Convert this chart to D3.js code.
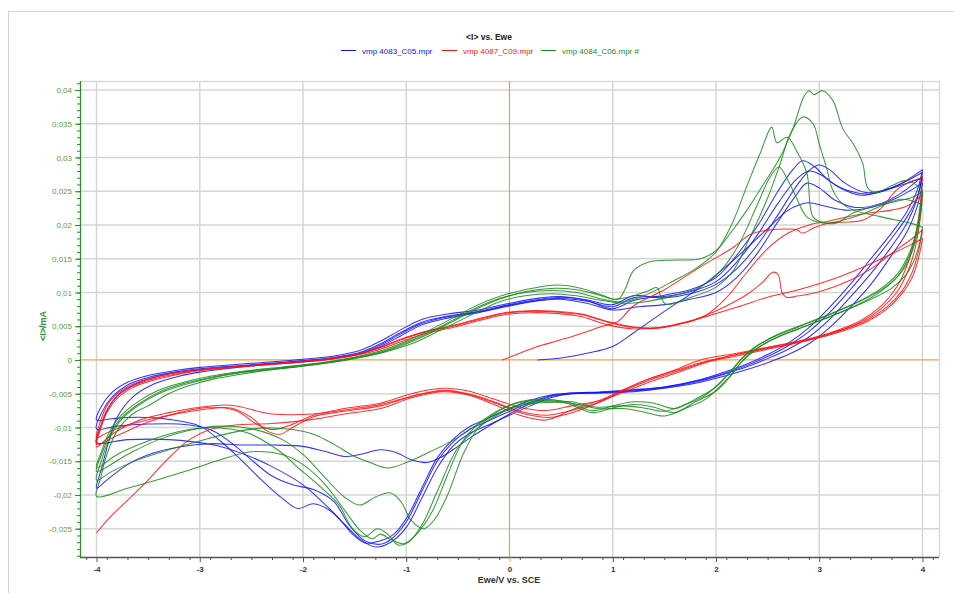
<!DOCTYPE html>
<html>
<head>
<meta charset="utf-8">
<script src="https://cdn.jsdelivr.net/npm/d3@7"></script>
<style>
  body { margin: 0; background: #fff; }
  svg { display: block; font-family: "Liberation Sans", Arial, sans-serif; }
</style>
</head>
<body>
<svg id="chart" width="954" height="593"></svg>
<script>
// ---- Series labels and colours ----
const seriesNames = ["vmp 4083_C05.mpr", "vmp 4087_C09.mpr", "vmp 4084_C06.mpr #"];
const seriesColors = ["#1010ff", "#ff1010", "#178a17"];

// ---- Axis ticks ----
const xTicks = [-4, -3, -2, -1, 0, 1, 2, 3, 4];
const yTicks = [-0.025, -0.02, -0.015, -0.01, -0.005, 0, 0.005, 0.01, 0.015, 0.02, 0.025, 0.03, 0.035, 0.04];

// ---- Scans: [Ewe (V), <I> (mA)] ----
// vmp 4083_C05
const blueStart = [[0.27,0.0000],[0.5,0.0003],[0.75,0.0010],[1.0,0.0020],[1.2,0.0040],[1.5,0.0072],[1.85,0.0108],[2.17,0.0148],[2.49,0.0193],[2.7,0.0222],[2.89,0.0233],[3.05,0.0228],[3.25,0.0222],[3.5,0.0226],[3.75,0.0240],[4.0,0.0262]];
const blueCycle1 = [[4.0,0.0262],[3.95,0.0228],[3.85,0.0190],[3.7,0.0155],[3.5,0.0112],[3.3,0.0078],[3.1,0.0048],[2.9,0.0024],[2.7,0.0008],[2.5,-0.0004],[2.3,-0.0014],[2.1,-0.0023],[1.85,-0.0033],[1.5,-0.0042],[1.2,-0.0047],[0.9,-0.0049],[0.6,-0.0050],[0.4,-0.0056],[0.2,-0.0068],[0.0,-0.0082],[-0.2,-0.0096],[-0.4,-0.0110],[-0.55,-0.0128],[-0.7,-0.0160],[-0.85,-0.0205],[-1.0,-0.0248],[-1.15,-0.0270],[-1.3,-0.0277],[-1.45,-0.0265],[-1.6,-0.0243],[-1.75,-0.0222],[-1.9,-0.0213],[-2.05,-0.0220],[-2.2,-0.0205],[-2.4,-0.0178],[-2.6,-0.0148],[-2.8,-0.0120],[-3.0,-0.0098],[-3.3,-0.0088],[-3.6,-0.0085],[-3.85,-0.0087],[-4.0,-0.0089],
  [-3.95,-0.0068],[-3.85,-0.0048],[-3.7,-0.0033],[-3.5,-0.0023],[-3.25,-0.0016],[-3.0,-0.0011],[-2.5,-0.0005],[-2.0,0.0001],[-1.7,0.0006],[-1.45,0.0014],[-1.25,0.0028],[-1.05,0.0045],[-0.85,0.0060],[-0.6,0.0068],[-0.3,0.0074],[0.0,0.0084],[0.3,0.0092],[0.5,0.0094],[0.75,0.0088],[1.0,0.0076],[1.2,0.0088],[1.5,0.0096],[1.75,0.0104],[2.0,0.0122],[2.2,0.0155],[2.4,0.0198],[2.6,0.0250],[2.75,0.0283],[2.84,0.0295],[2.95,0.0287],[3.1,0.0265],[3.3,0.0250],[3.5,0.0246],[3.75,0.0258],[4.0,0.0282]];
const blueCycle2 = [[4.0,0.0282],[3.95,0.0252],[3.85,0.0220],[3.7,0.0188],[3.5,0.0150],[3.3,0.0112],[3.1,0.0078],[2.9,0.0048],[2.7,0.0025],[2.5,0.0008],[2.3,-0.0006],[2.1,-0.0017],[1.85,-0.0029],[1.5,-0.0040],[1.2,-0.0045],[0.9,-0.0048],[0.6,-0.0049],[0.4,-0.0053],[0.2,-0.0063],[0.0,-0.0076],[-0.2,-0.0090],[-0.4,-0.0104],[-0.55,-0.0122],[-0.7,-0.0150],[-0.85,-0.0195],[-1.0,-0.0240],[-1.15,-0.0266],[-1.25,-0.0273],[-1.4,-0.0268],[-1.55,-0.0245],[-1.7,-0.0210],[-1.9,-0.0192],[-2.1,-0.0185],[-2.3,-0.0172],[-2.5,-0.0148],[-2.7,-0.0122],[-2.9,-0.0103],[-3.2,-0.0095],[-3.5,-0.0095],[-3.8,-0.0098],[-4.0,-0.0102],
  [-3.95,-0.0078],[-3.85,-0.0055],[-3.7,-0.0037],[-3.5,-0.0026],[-3.25,-0.0018],[-3.0,-0.0013],[-2.5,-0.0007],[-2.0,-0.0001],[-1.7,0.0004],[-1.45,0.0011],[-1.25,0.0024],[-1.05,0.0041],[-0.85,0.0056],[-0.6,0.0065],[-0.3,0.0072],[0.0,0.0082],[0.3,0.0090],[0.5,0.0093],[0.75,0.0089],[1.0,0.0082],[1.2,0.0095],[1.5,0.0092],[1.75,0.0098],[2.0,0.0112],[2.2,0.0135],[2.4,0.0170],[2.6,0.0215],[2.8,0.0262],[2.92,0.0283],[3.0,0.0289],[3.1,0.0282],[3.25,0.0262],[3.45,0.0248],[3.7,0.0255],[4.0,0.0278]];
const blueCycle3 = [[4.0,0.0278],[3.95,0.0240],[3.85,0.0203],[3.7,0.0168],[3.5,0.0128],[3.3,0.0093],[3.1,0.0060],[2.9,0.0034],[2.7,0.0016],[2.5,0.0002],[2.3,-0.0010],[2.1,-0.0020],[1.85,-0.0031],[1.5,-0.0041],[1.2,-0.0046],[0.9,-0.0048],[0.6,-0.0050],[0.4,-0.0054],[0.2,-0.0065],[0.0,-0.0080],[-0.2,-0.0098],[-0.35,-0.0112],[-0.5,-0.0128],[-0.65,-0.0143],[-0.8,-0.0152],[-0.95,-0.0148],[-1.1,-0.0137],[-1.25,-0.0133],[-1.45,-0.0140],[-1.6,-0.0143],[-1.8,-0.0135],[-2.0,-0.0128],[-2.3,-0.0126],[-2.6,-0.0126],[-2.9,-0.0124],[-3.2,-0.0129],[-3.45,-0.0138],[-3.7,-0.0155],[-3.9,-0.0178],[-4.0,-0.0190],
  [-3.95,-0.0160],[-3.88,-0.0120],[-3.8,-0.0085],[-3.65,-0.0055],[-3.45,-0.0036],[-3.2,-0.0024],[-3.0,-0.0018],[-2.5,-0.0009],[-2.0,-0.0003],[-1.7,0.0002],[-1.45,0.0009],[-1.25,0.0020],[-1.05,0.0036],[-0.85,0.0052],[-0.6,0.0062],[-0.3,0.0070],[0.0,0.0080],[0.3,0.0088],[0.5,0.0090],[0.75,0.0084],[1.0,0.0074],[1.25,0.0079],[1.5,0.0082],[1.75,0.0090],[2.0,0.0100],[2.2,0.0122],[2.4,0.0158],[2.6,0.0205],[2.78,0.0245],[2.88,0.0262],[3.0,0.0255],[3.15,0.0237],[3.35,0.0226],[3.6,0.0232],[3.8,0.0248],[4.0,0.0272]];
const blueCycle4 = [[4.0,0.0272],[3.95,0.0242],[3.85,0.0212],[3.7,0.0180],[3.5,0.0141],[3.3,0.0104],[3.1,0.0070],[2.9,0.0042],[2.7,0.0021],[2.5,0.0005],[2.3,-0.0008],[2.1,-0.0019],[1.85,-0.0030],[1.5,-0.0040],[1.2,-0.0044],[0.9,-0.0047],[0.6,-0.0049],[0.4,-0.0052],[0.2,-0.0060],[0.0,-0.0072],[-0.2,-0.0086],[-0.4,-0.0100],[-0.55,-0.0118],[-0.7,-0.0145],[-0.85,-0.0190],[-1.0,-0.0235],[-1.12,-0.0258],[-1.25,-0.0268],[-1.4,-0.0271],[-1.52,-0.0258],[-1.65,-0.0235],[-1.8,-0.0212],[-2.0,-0.0185],[-2.3,-0.0158],[-2.6,-0.0138],[-2.9,-0.0125],[-3.3,-0.0118],[-3.7,-0.0118],[-4.0,-0.0122],
  [-3.95,-0.0095],[-3.88,-0.0070],[-3.78,-0.0050],[-3.6,-0.0034],[-3.4,-0.0024],[-3.15,-0.0017],[-2.9,-0.0013],[-2.5,-0.0008],[-2.0,-0.0002],[-1.7,0.0003],[-1.45,0.0010],[-1.25,0.0022],[-1.05,0.0039],[-0.85,0.0054],[-0.6,0.0064],[-0.3,0.0071],[0.0,0.0081],[0.3,0.0089],[0.5,0.0091],[0.75,0.0087],[1.0,0.0079],[1.2,0.0092],[1.5,0.0094],[1.75,0.0101],[2.0,0.0116],[2.2,0.0145],[2.4,0.0185],[2.6,0.0232],[2.78,0.0268],[2.9,0.0280],[3.02,0.0274],[3.2,0.0255],[3.4,0.0244],[3.65,0.0252],[4.0,0.0270]];

// vmp 4087_C09
const redStart = [[-0.07,0.0000],[0.1,0.0010],[0.25,0.0019],[0.55,0.0032],[0.88,0.0049],[1.05,0.0057],[1.2,0.0080],[1.5,0.0104],[1.85,0.0138],[2.17,0.0167],[2.33,0.0186],[2.49,0.0192],[2.7,0.0194],[2.78,0.0193],[2.84,0.0188],[2.95,0.0196],[3.1,0.0203],[3.42,0.0207],[3.6,0.0225],[3.75,0.0252],[3.9,0.0265],[4.0,0.0270]];
const redCycle1 = [[4.0,0.0270],[3.97,0.0220],[3.92,0.0175],[3.85,0.0140],[3.75,0.0108],[3.6,0.0080],[3.4,0.0058],[3.1,0.0040],[2.8,0.0028],[2.5,0.0019],[2.2,0.0010],[1.85,0.0000],[1.6,-0.0015],[1.35,-0.0028],[1.1,-0.0045],[0.88,-0.0062],[0.65,-0.0076],[0.4,-0.0085],[0.15,-0.0080],[-0.1,-0.0066],[-0.35,-0.0053],[-0.6,-0.0046],[-0.9,-0.0052],[-1.25,-0.0068],[-1.6,-0.0076],[-1.9,-0.0084],[-2.1,-0.0100],[-2.22,-0.0110],[-2.35,-0.0105],[-2.5,-0.0085],[-2.7,-0.0071],[-3.0,-0.0074],[-3.3,-0.0082],[-3.67,-0.0095],[-3.9,-0.0108],[-4.0,-0.0115],
  [-3.96,-0.0090],[-3.9,-0.0068],[-3.8,-0.0050],[-3.65,-0.0036],[-3.45,-0.0026],[-3.2,-0.0018],[-3.0,-0.0014],[-2.5,-0.0008],[-2.0,-0.0002],[-1.7,0.0003],[-1.45,0.0009],[-1.25,0.0018],[-1.05,0.0030],[-0.8,0.0042],[-0.55,0.0050],[-0.3,0.0060],[-0.05,0.0069],[0.2,0.0072],[0.45,0.0071],[0.7,0.0067],[0.95,0.0056],[1.2,0.0048],[1.45,0.0047],[1.7,0.0055],[1.9,0.0066],[2.1,0.0080],[2.3,0.0097],[2.45,0.0115],[2.55,0.0130],[2.6,0.0127],[2.64,0.0100],[2.68,0.0093],[2.8,0.0095],[3.0,0.0101],[3.3,0.0118],[3.5,0.0135],[3.7,0.0158],[3.9,0.0180],[4.0,0.0193]];
const redCycle2 = [[4.0,0.0193],[3.96,0.0160],[3.9,0.0130],[3.8,0.0102],[3.65,0.0078],[3.45,0.0058],[3.1,0.0039],[2.8,0.0027],[2.5,0.0018],[2.2,0.0008],[1.9,-0.0003],[1.6,-0.0018],[1.35,-0.0030],[1.1,-0.0046],[0.88,-0.0062],[0.6,-0.0075],[0.35,-0.0082],[0.1,-0.0076],[-0.15,-0.0062],[-0.4,-0.0050],[-0.65,-0.0045],[-0.95,-0.0054],[-1.25,-0.0066],[-1.6,-0.0074],[-1.9,-0.0080],[-2.3,-0.0080],[-2.7,-0.0067],[-3.0,-0.0070],[-3.3,-0.0078],[-3.6,-0.0090],[-3.85,-0.0110],[-4.0,-0.0129],
  [-3.96,-0.0102],[-3.9,-0.0078],[-3.8,-0.0057],[-3.65,-0.0041],[-3.45,-0.0030],[-3.2,-0.0021],[-3.0,-0.0016],[-2.5,-0.0009],[-2.0,-0.0003],[-1.7,0.0002],[-1.45,0.0008],[-1.25,0.0016],[-1.05,0.0027],[-0.8,0.0040],[-0.55,0.0048],[-0.3,0.0058],[-0.05,0.0067],[0.2,0.0070],[0.45,0.0069],[0.7,0.0064],[0.95,0.0052],[1.2,0.0046],[1.45,0.0048],[1.7,0.0055],[1.9,0.0064],[2.2,0.0078],[2.5,0.0093],[2.8,0.0104],[3.1,0.0118],[3.4,0.0136],[3.7,0.0157],[3.9,0.0172],[4.0,0.0180]];
const redCycle3 = [[4.0,0.0180],[3.96,0.0150],[3.9,0.0122],[3.8,0.0098],[3.65,0.0075],[3.45,0.0056],[3.1,0.0037],[2.8,0.0026],[2.5,0.0016],[2.2,0.0006],[1.9,-0.0004],[1.6,-0.0020],[1.35,-0.0033],[1.1,-0.0048],[0.88,-0.0060],[0.6,-0.0068],[0.35,-0.0075],[0.1,-0.0070],[-0.15,-0.0058],[-0.4,-0.0046],[-0.65,-0.0042],[-0.95,-0.0050],[-1.25,-0.0064],[-1.6,-0.0072],[-1.9,-0.0082],[-2.15,-0.0098],[-2.3,-0.0103],[-2.45,-0.0095],[-2.65,-0.0075],[-2.9,-0.0070],[-3.2,-0.0078],[-3.5,-0.0092],[-3.8,-0.0112],[-4.0,-0.0125],
  [-3.96,-0.0098],[-3.9,-0.0074],[-3.8,-0.0054],[-3.65,-0.0039],[-3.45,-0.0028],[-3.2,-0.0020],[-3.0,-0.0015],[-2.5,-0.0008],[-2.0,-0.0002],[-1.7,0.0003],[-1.45,0.0010],[-1.25,0.0019],[-1.05,0.0031],[-0.8,0.0043],[-0.55,0.0051],[-0.3,0.0061],[-0.05,0.0070],[0.2,0.0073],[0.45,0.0072],[0.7,0.0068],[0.95,0.0057],[1.2,0.0049],[1.45,0.0048],[1.7,0.0056],[1.9,0.0066],[2.1,0.0092],[2.3,0.0130],[2.5,0.0165],[2.7,0.0188],[2.9,0.0200],[3.1,0.0206],[3.3,0.0213],[3.5,0.0218],[3.7,0.0222],[3.85,0.0228],[4.0,0.0245]];
const redFinal = [[4.0,0.0245],[3.97,0.0200],[3.92,0.0160],[3.85,0.0128],[3.75,0.0100],[3.6,0.0076],[3.4,0.0056],[3.1,0.0038],[2.8,0.0026],[2.5,0.0017],[2.2,0.0008],[1.9,-0.0002],[1.6,-0.0016],[1.35,-0.0028],[1.1,-0.0044],[0.9,-0.0058],[0.6,-0.0074],[0.35,-0.0089],[0.1,-0.0082],[-0.15,-0.0066],[-0.4,-0.0052],[-0.65,-0.0047],[-0.95,-0.0056],[-1.25,-0.0072],[-1.6,-0.0080],[-1.9,-0.0088],[-2.3,-0.0094],[-2.63,-0.0096],[-2.9,-0.0103],[-3.1,-0.0118],[-3.3,-0.0145],[-3.5,-0.0178],[-3.7,-0.0208],[-3.85,-0.0230],[-4.0,-0.0256]];

// vmp 4084_C06
const greenCycle1 = [[4.0,0.0250],[3.97,0.0212],[3.93,0.0182],[3.86,0.0150],[3.76,0.0124],[3.6,0.0102],[3.4,0.0084],[3.1,0.0064],[2.8,0.0046],[2.5,0.0027],[2.3,0.0006],[2.15,-0.0022],[2.0,-0.0046],[1.8,-0.0062],[1.6,-0.0078],[1.4,-0.0070],[1.2,-0.0066],[1.0,-0.0071],[0.8,-0.0078],[0.55,-0.0064],[0.3,-0.0060],[0.1,-0.0063],[-0.1,-0.0074],[-0.3,-0.0094],[-0.5,-0.0115],[-0.77,-0.0136],[-1.0,-0.0152],[-1.18,-0.0160],[-1.35,-0.0152],[-1.5,-0.0143],[-1.7,-0.0125],[-1.9,-0.0110],[-2.1,-0.0103],[-2.4,-0.0101],[-2.7,-0.0108],[-3.0,-0.0120],[-3.3,-0.0133],[-3.6,-0.0148],[-3.85,-0.0165],[-4.0,-0.0178],
  [-3.95,-0.0148],[-3.88,-0.0118],[-3.78,-0.0092],[-3.6,-0.0068],[-3.4,-0.0050],[-3.18,-0.0038],[-2.9,-0.0027],[-2.6,-0.0019],[-2.3,-0.0014],[-2.0,-0.0009],[-1.7,-0.0003],[-1.45,0.0004],[-1.2,0.0013],[-0.95,0.0027],[-0.75,0.0041],[-0.55,0.0057],[-0.3,0.0077],[-0.1,0.0090],[0.15,0.0101],[0.4,0.0106],[0.65,0.0104],[0.85,0.0097],[1.0,0.0090],[1.2,0.0095],[1.35,0.0103],[1.43,0.0107],[1.47,0.0092],[1.52,0.0082],[1.7,0.0090],[2.0,0.0108],[2.17,0.0133],[2.33,0.0182],[2.5,0.0240],[2.62,0.0290],[2.72,0.0335],[2.84,0.0360],[2.94,0.0350],[3.0,0.0320],[3.07,0.0285],[3.13,0.0252],[3.22,0.0232],[3.33,0.0222],[3.6,0.0212],[3.9,0.0202],[4.0,0.0197]];
const greenCycle2 = [[4.0,0.0197],[3.97,0.0172],[3.92,0.0148],[3.84,0.0126],[3.7,0.0106],[3.5,0.0090],[3.2,0.0070],[2.9,0.0052],[2.6,0.0034],[2.4,0.0017],[2.25,-0.0003],[2.1,-0.0030],[1.9,-0.0058],[1.7,-0.0072],[1.5,-0.0083],[1.3,-0.0077],[1.1,-0.0072],[0.85,-0.0072],[0.6,-0.0064],[0.35,-0.0063],[0.1,-0.0068],[-0.1,-0.0080],[-0.3,-0.0100],[-0.5,-0.0130],[-0.7,-0.0195],[-0.85,-0.0245],[-0.98,-0.0270],[-1.08,-0.0274],[-1.18,-0.0258],[-1.28,-0.0250],[-1.4,-0.0262],[-1.52,-0.0250],[-1.65,-0.0215],[-1.83,-0.0188],[-2.06,-0.0158],[-2.22,-0.0136],[-2.54,-0.0108],[-2.9,-0.0100],[-3.2,-0.0106],[-3.5,-0.0120],[-3.8,-0.0140],[-4.0,-0.0160],
  [-3.95,-0.0135],[-3.88,-0.0108],[-3.78,-0.0085],[-3.6,-0.0062],[-3.4,-0.0045],[-3.18,-0.0034],[-2.9,-0.0024],[-2.6,-0.0017],[-2.3,-0.0012],[-2.0,-0.0007],[-1.7,-0.0001],[-1.45,0.0006],[-1.2,0.0016],[-0.95,0.0031],[-0.75,0.0046],[-0.55,0.0062],[-0.3,0.0082],[-0.1,0.0094],[0.15,0.0104],[0.46,0.0111],[0.7,0.0106],[0.9,0.0096],[1.05,0.0090],[1.12,0.0105],[1.2,0.0132],[1.35,0.0145],[1.6,0.0148],[1.85,0.0150],[2.0,0.0162],[2.15,0.0190],[2.3,0.0222],[2.45,0.0258],[2.62,0.0300],[2.75,0.0345],[2.85,0.0390],[2.9,0.0399],[2.95,0.0393],[3.03,0.0399],[3.13,0.0385],[3.23,0.0342],[3.33,0.0320],[3.42,0.0292],[3.47,0.0255],[3.55,0.0248],[3.7,0.0258],[3.85,0.0266],[4.0,0.0252]];
const greenCycle3 = [[4.0,0.0252],[3.97,0.0215],[3.93,0.0185],[3.86,0.0154],[3.76,0.0128],[3.6,0.0106],[3.4,0.0088],[3.1,0.0067],[2.8,0.0049],[2.5,0.0030],[2.3,0.0010],[2.15,-0.0016],[2.0,-0.0040],[1.8,-0.0058],[1.6,-0.0072],[1.4,-0.0064],[1.2,-0.0062],[1.0,-0.0068],[0.8,-0.0075],[0.55,-0.0062],[0.3,-0.0058],[0.1,-0.0062],[-0.1,-0.0075],[-0.3,-0.0100],[-0.45,-0.0140],[-0.6,-0.0200],[-0.72,-0.0235],[-0.83,-0.0250],[-0.95,-0.0238],[-1.05,-0.0210],[-1.15,-0.0197],[-1.3,-0.0203],[-1.45,-0.0215],[-1.6,-0.0203],[-1.8,-0.0172],[-2.0,-0.0140],[-2.2,-0.0118],[-2.5,-0.0102],[-2.8,-0.0098],[-3.1,-0.0104],[-3.4,-0.0118],[-3.7,-0.0140],[-4.0,-0.0165],
  [-3.95,-0.0140],[-3.88,-0.0113],[-3.78,-0.0089],[-3.6,-0.0066],[-3.4,-0.0048],[-3.18,-0.0036],[-2.9,-0.0026],[-2.6,-0.0018],[-2.3,-0.0013],[-2.0,-0.0008],[-1.7,-0.0002],[-1.45,0.0005],[-1.2,0.0014],[-0.95,0.0029],[-0.75,0.0043],[-0.55,0.0059],[-0.3,0.0079],[-0.1,0.0091],[0.15,0.0100],[0.4,0.0103],[0.65,0.0100],[0.9,0.0090],[1.1,0.0086],[1.3,0.0095],[1.6,0.0118],[1.8,0.0135],[2.0,0.0160],[2.15,0.0200],[2.3,0.0258],[2.43,0.0307],[2.54,0.0345],[2.59,0.0322],[2.69,0.0330],[2.78,0.0310],[2.88,0.0277],[2.94,0.0212],[3.05,0.0203],[3.17,0.0203],[3.33,0.0218],[3.52,0.0227],[3.75,0.0235],[3.9,0.0241],[4.0,0.0249]];
const greenCycle4 = [[4.0,0.0249],[3.97,0.0205],[3.92,0.0170],[3.84,0.0140],[3.7,0.0115],[3.5,0.0095],[3.2,0.0074],[2.9,0.0056],[2.6,0.0038],[2.4,0.0021],[2.25,0.0002],[2.1,-0.0024],[1.9,-0.0052],[1.7,-0.0066],[1.5,-0.0076],[1.3,-0.0071],[1.1,-0.0068],[0.85,-0.0070],[0.6,-0.0062],[0.35,-0.0061],[0.1,-0.0066],[-0.1,-0.0078],[-0.3,-0.0095],[-0.45,-0.0120],[-0.6,-0.0170],[-0.75,-0.0225],[-0.9,-0.0258],[-1.02,-0.0272],[-1.15,-0.0266],[-1.25,-0.0258],[-1.33,-0.0265],[-1.45,-0.0252],[-1.6,-0.0222],[-1.8,-0.0182],[-2.0,-0.0155],[-2.2,-0.0140],[-2.5,-0.0136],[-2.8,-0.0148],[-3.1,-0.0163],[-3.4,-0.0177],[-3.7,-0.0190],[-4.0,-0.0202],
  [-3.96,-0.0175],[-3.9,-0.0140],[-3.8,-0.0105],[-3.65,-0.0080],[-3.5,-0.0068],[-3.3,-0.0050],[-3.1,-0.0038],[-2.86,-0.0028],[-2.6,-0.0021],[-2.38,-0.0016],[-2.1,-0.0011],[-1.9,-0.0007],[-1.57,0.0000],[-1.25,0.0010],[-0.93,0.0025],[-0.75,0.0038],[-0.55,0.0053],[-0.3,0.0072],[-0.1,0.0086],[0.15,0.0095],[0.4,0.0098],[0.65,0.0095],[0.9,0.0088],[1.1,0.0084],[1.3,0.0086],[1.5,0.0092],[1.8,0.0105],[2.0,0.0125],[2.2,0.0165],[2.4,0.0230],[2.52,0.0270],[2.61,0.0286],[2.7,0.0265],[2.78,0.0240],[2.88,0.0212],[3.03,0.0203],[3.2,0.0206],[3.4,0.0215],[3.6,0.0228],[3.8,0.0238],[4.0,0.0230]];

const blueScans = [blueStart, blueCycle1, blueCycle2, blueCycle3, blueCycle4];
const redScans = [redStart, redCycle1, redCycle2, redCycle3, redFinal];
const greenScans = [greenCycle1, greenCycle2, greenCycle3, greenCycle4];
const allSeries = [blueScans, redScans, greenScans];

// ---- Layout ----
const svg = d3.select("#chart");
const plot = { left: 80, right: 939, top: 81, bottom: 557 };

const x = d3.scaleLinear().domain([-4.16, 4.16]).range([plot.left, plot.right]);
const y = d3.scaleLinear().domain([-0.02919, 0.04133]).range([plot.bottom, plot.top]);

const locale = d3.formatLocale({ decimal: ",", thousands: ".", grouping: [3], currency: ["", ""], minus: "-" });
const yFmt = locale.format(".3~f");

// outer panel frame
svg.append("rect").attr("x", 8.5).attr("y", 11.5).attr("width", 1000).attr("height", 1000)
  .attr("fill", "none").attr("stroke", "#d4d4d4");

// plot frame (top + right)
svg.append("path")
  .attr("d", `M${plot.left},${plot.top + 0.5}H${plot.right + 0.5}V${plot.bottom}`)
  .attr("fill", "none").attr("stroke", "#d9d9d9").attr("stroke-width", 1.5);

// grid
const grid = svg.append("g");
grid.selectAll("line.gx").data(xTicks.filter(d => d !== 0)).join("line")
  .attr("x1", d => x(d)).attr("x2", d => x(d))
  .attr("y1", plot.top).attr("y2", plot.bottom)
  .attr("stroke", "#d6d6d6").attr("stroke-width", 1.5);
grid.selectAll("line.gy").data(yTicks.filter(d => d !== 0)).join("line")
  .attr("y1", d => y(d)).attr("y2", d => y(d))
  .attr("x1", plot.left).attr("x2", plot.right)
  .attr("stroke", "#d6d6d6").attr("stroke-width", 1.5);

// zero lines
grid.append("line").attr("x1", x(0)).attr("x2", x(0)).attr("y1", plot.top).attr("y2", plot.bottom)
  .attr("stroke", "#ee9a48").attr("stroke-width", 1.2);
grid.append("line").attr("x1", plot.left).attr("x2", plot.right).attr("y1", y(0)).attr("y2", y(0))
  .attr("stroke", "#f5a340").attr("stroke-width", 1.2);

// curves
const line = d3.line().x(d => x(d[0])).y(d => y(d[1])).curve(d3.curveCatmullRom.alpha(0.5));
const curves = svg.append("g").attr("fill", "none");
allSeries.forEach((scans, i) => {
  curves.append("g").selectAll("path").data(scans).join("path")
    .attr("d", line)
    .attr("stroke", seriesColors[i])
    .attr("stroke-width", 1.05)
    .attr("stroke-opacity", 0.85)
    .attr("stroke-linejoin", "round");
});

// x axis
const xMinor = d3.range(-41, 42, 2).map(d => d / 10).filter(d => Math.abs(d) <= 4.16);
const xAxisG = svg.append("g").attr("transform", `translate(0,${plot.bottom})`);
xAxisG.call(d3.axisBottom(x).tickValues(xMinor).tickSize(3).tickFormat(""));
xAxisG.call(g => g.select(".domain").remove());
const xMajor = svg.append("g").attr("transform", `translate(0,${plot.bottom})`)
  .call(d3.axisBottom(x).tickValues(xTicks).tickSize(5).tickPadding(4).tickFormat(d3.format("d")));
xMajor.select(".domain").attr("d", `M${plot.left},0.5H${plot.right}`).attr("stroke", "#555").attr("stroke-width", 1.5);
svg.selectAll(".tick line").attr("stroke", "#555");
xMajor.selectAll("text").attr("fill", "#333").attr("font-size", 8).attr("font-weight", "bold")
  .text(d => d === 0 ? "0" : String(d).replace("\u2212", "-"));
xMajor.selectAll(".tick").filter(d => d === 0).select("line").attr("stroke", "#ee9a48");

// y axis
const yMinor = d3.range(-29, 42).map(d => d / 1000);
const yAxisMinor = svg.append("g").attr("transform", `translate(${plot.left},0)`)
  .call(d3.axisLeft(y).tickValues(yMinor).tickSize(3).tickFormat(""));
yAxisMinor.select(".domain").remove();
yAxisMinor.selectAll("line").attr("stroke", "#2e8b2e");
const yAxisG = svg.append("g").attr("transform", `translate(${plot.left},0)`)
  .call(d3.axisLeft(y).tickValues(yTicks).tickSize(5).tickPadding(3).tickFormat(yFmt));
yAxisG.select(".domain").attr("d", `M0.5,${plot.top}V${plot.bottom}`).attr("stroke", "#2e8b2e").attr("stroke-width", 1.3);
yAxisG.selectAll("line").attr("stroke", "#2e8b2e");
yAxisG.selectAll("text").attr("fill", "#5a9e36").attr("font-size", 8);

// axis titles
svg.append("text").attr("x", 509).attr("y", 583).attr("text-anchor", "middle")
  .attr("font-size", 9).attr("font-weight", "bold").attr("fill", "#333").text("Ewe/V vs. SCE");
svg.append("text").attr("transform", `translate(46,326) rotate(-90)`).attr("text-anchor", "middle")
  .attr("font-size", 9).attr("font-weight", "bold").attr("fill", "#2e8b2e").text("<I>/mA");

// title
svg.append("text").attr("x", 489).attr("y", 40).attr("text-anchor", "middle")
  .attr("font-size", 8.5).attr("font-weight", "bold").attr("fill", "#222").text("<I> vs. Ewe");

// legend
const legendX = [341, 442, 541];
const legend = svg.append("g");
seriesNames.forEach((name, i) => {
  legend.append("line").attr("x1", legendX[i]).attr("x2", legendX[i] + 15)
    .attr("y1", 50.5).attr("y2", 50.5).attr("stroke", seriesColors[i]).attr("stroke-width", 1);
  legend.append("text").attr("x", legendX[i] + 21).attr("y", 53.5)
    .attr("font-size", 8).attr("fill", seriesColors[i]).text(name);
});
</script>
</body>
</html>
